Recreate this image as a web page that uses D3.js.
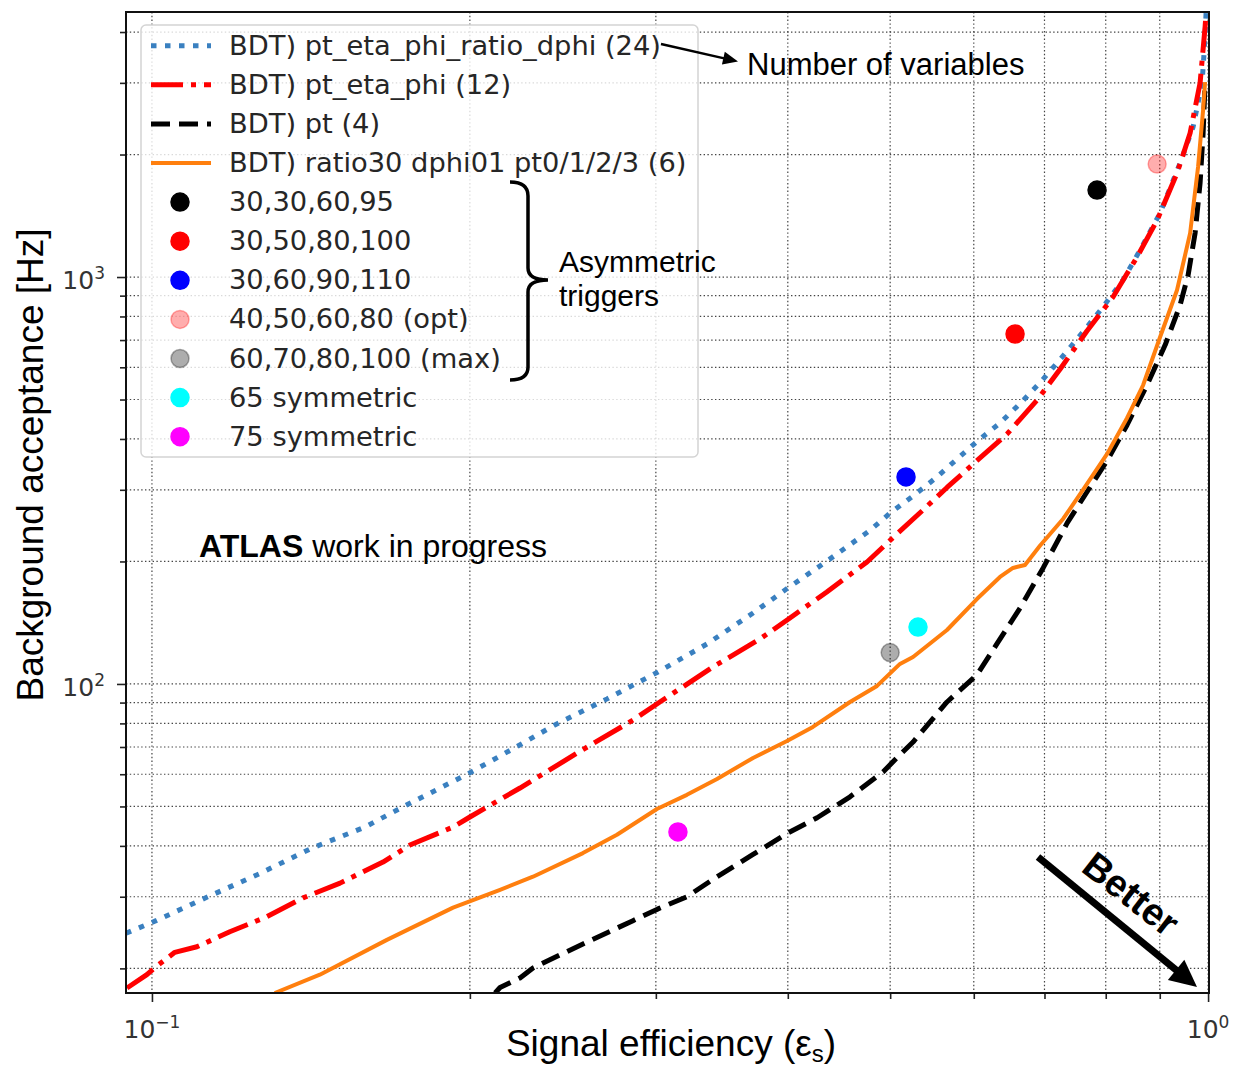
<!DOCTYPE html>
<html>
<head>
<meta charset="utf-8">
<script src="https://cdn.jsdelivr.net/npm/d3@7"></script>
<style>
	body { margin: 0; background: #fff; }
	svg { display: block; }
</style>
</head>
<body>
<svg id="chart" width="1236" height="1068"></svg>
<script>
// ROC-like curves: signal efficiency vs background acceptance [Hz]
var dphi24Eff = [0.0945, 0.1009, 0.113, 0.1268, 0.1417, 0.1591, 0.1729, 0.1991, 0.2221, 0.2407, 0.2697, 0.3014, 0.3354, 0.3708, 0.4002, 0.4318, 0.4785, 0.5, 0.5256, 0.5514, 0.5786, 0.6055, 0.6353, 0.6637, 0.6934, 0.7086, 0.7356, 0.7679, 0.7955, 0.8308, 0.8623, 0.9007, 0.9408, 0.9678, 0.987, 0.9935, 0.9956];
var dphi24Bkg = [24.4, 26.2, 30.0, 34.3, 39.5, 44.5, 49.9, 60.1, 70.4, 79.3, 91.9, 107, 125.4, 149.4, 172.2, 197.2, 238.4, 263.1, 289.7, 319.7, 357.1, 396.3, 437.8, 488.7, 550.3, 587.5, 657.9, 753.7, 845, 983, 1165, 1436, 1906, 2336, 2998, 3889, 4454];

var etaPhi12Eff = [0.0947, 0.0989, 0.1009, 0.1051, 0.1103, 0.1185, 0.1285, 0.139, 0.1507, 0.1655, 0.1755, 0.1928, 0.2, 0.2231, 0.2346, 0.2559, 0.2854, 0.3046, 0.3398, 0.3765, 0.4019, 0.4355, 0.4754, 0.5074, 0.5372, 0.566, 0.6041, 0.6452, 0.6889, 0.7244, 0.7679, 0.8128, 0.8565, 0.8949, 0.9346, 0.9616, 0.9827, 0.9935, 0.9956];
var etaPhi12Bkg = [17.9, 19.3, 20.2, 21.9, 22.6, 24.6, 26.8, 29.8, 32.4, 36.5, 40.2, 44.5, 47.1, 55.5, 60.1, 69.0, 81.5, 91.3, 110.1, 129, 145.3, 168.3, 199.4, 233.7, 267.7, 304, 353.7, 411.5, 498.6, 594.3, 736.8, 893, 1120, 1380, 1800, 2258, 2998, 4115, 4454];

var pt4Eff = [0.2113, 0.2136, 0.2231, 0.2295, 0.2559, 0.2854, 0.3014, 0.321, 0.3428, 0.3708, 0.3993, 0.4264, 0.4581, 0.4923, 0.5108, 0.5256, 0.566, 0.6041, 0.6312, 0.6637, 0.698, 0.7356, 0.7679, 0.8024, 0.8381, 0.8754, 0.9106, 0.9408, 0.9574, 0.9721, 0.9827, 0.9892, 0.9935];
var pt4Bkg = [17.4, 17.95, 18.95, 20.05, 22.97, 26.2, 28.0, 30.0, 33.6, 38.1, 42.9, 46.9, 52.8, 60.8, 67.0, 72.0, 90.3, 105.2, 125.6, 153.7, 192.8, 248.7, 296.3, 353.7, 432.9, 542.8, 680.6, 853.6, 1011, 1282, 1702, 2258, 2998];

var ratio6Eff = [0.1307, 0.1442, 0.1669, 0.1928, 0.2136, 0.2295, 0.2559, 0.2756, 0.3007, 0.321, 0.3428, 0.3708, 0.3993, 0.4225, 0.4581, 0.4859, 0.5108, 0.5256, 0.566, 0.6041, 0.6353, 0.6535, 0.6709, 0.6934, 0.7292, 0.7613, 0.8024, 0.8381, 0.868, 0.9007, 0.9346, 0.9616, 0.9784, 0.9892, 0.9935];
var ratio6Bkg = [17.4, 19.3, 23.5, 28.2, 31.2, 33.6, 38.4, 42.6, 49.3, 53.4, 58.4, 65.8, 72.4, 78.4, 90.3, 98.9, 112, 116.5, 135.7, 161.7, 183.2, 192.8, 196.1, 218.9, 254.7, 299.7, 367.4, 450.4, 542.8, 712.2, 929.3, 1282, 1864, 2572, 3014];

var curveLabels = ['BDT) pt_eta_phi_ratio_dphi (24)', 'BDT) pt_eta_phi (12)', 'BDT) pt (4)', 'BDT) ratio30 dphi01 pt0/1/2/3 (6)'];

// single trigger working points
var triggerNames = ['30,30,60,95', '30,50,80,100', '30,60,90,110', '40,50,60,80 (opt)', '60,70,80,100 (max)', '65 symmetric', '75 symmetric'];
var triggerEff = [0.785, 0.6565, 0.5176, 0.8949, 0.5, 0.5313, 0.3148];
var triggerBkg = [1636, 724.4, 322.6, 1895, 119.4, 138, 43.3];

var xDecadeExp = ['\u22121', '0'];
var yDecadeExp = ['2', '3'];

// styles
var curveStyles = [
	{color: '#3a80c0', width: 5, dash: '5.5 8.5'},
	{color: '#ff0000', width: 5, dash: '32 8 5 8'},
	{color: '#000000', width: 5, dash: '19 9'},
	{color: '#ff7f0e', width: 4, dash: null}
];
var triggerColors = ['#000000', '#ff0000', '#0000ff', '#ff0000', '#000000', '#00ffff', '#ff00ff'];
var triggerAlpha = [1, 1, 1, 0.32, 0.32, 1, 1];

var tickFont = 'DejaVu Sans, sans-serif';
var noteFont = 'Liberation Sans, Arial, sans-serif';

function zipPoints(xs, ys) {
	return xs.map(function (v, i) {
		return [v, ys[i]];
	});
}

function isDecade(v) {
	var l = Math.log10(v);
	return Math.abs(l - Math.round(l)) < 1e-9;
}

function drawArrow(g, x1, y1, x2, y2, lineW, headLen, headW) {
	var dx = x2 - x1, dy = y2 - y1;
	var len = Math.sqrt(dx * dx + dy * dy);
	var ux = dx / len, uy = dy / len;
	var bx = x2 - ux * headLen, by = y2 - uy * headLen;
	g.append('line')
		.attr('x1', x1).attr('y1', y1)
		.attr('x2', bx + ux * 2).attr('y2', by + uy * 2)
		.attr('stroke', '#000')
		.attr('stroke-width', lineW);
	g.append('polygon')
		.attr('points', [[x2, y2], [bx - uy * headW / 2, by + ux * headW / 2], [bx + uy * headW / 2, by - ux * headW / 2]].join(' '))
		.attr('fill', '#000');
}

function drawChart() {
	var svg = d3.select('#chart');
	var plotLeft = 126, plotRight = 1209, plotTop = 12, plotBottom = 993;

	svg.append('rect').attr('width', 1236).attr('height', 1068).attr('fill', '#fff');

	var x = d3.scaleLog().domain([0.0945, 1.002]).range([plotLeft, plotRight]);
	var y = d3.scaleLog().domain([17.4, 4480]).range([plotBottom, plotTop]);

	svg.append('defs').append('clipPath').attr('id', 'plot-clip')
		.append('rect')
		.attr('x', plotLeft).attr('y', plotTop)
		.attr('width', plotRight - plotLeft)
		.attr('height', plotBottom - plotTop);

	// dotted grid on major and minor ticks
	var grid = svg.append('g').attr('id', 'grid')
		.attr('stroke', '#444')
		.attr('stroke-width', 1.2)
		.attr('stroke-dasharray', '1.4 2.4');
	grid.selectAll('line.vgrid').data(x.ticks()).enter().append('line')
		.attr('class', 'vgrid')
		.attr('x1', function (d) { return x(d); })
		.attr('x2', function (d) { return x(d); })
		.attr('y1', plotTop)
		.attr('y2', plotBottom);
	grid.selectAll('line.hgrid').data(y.ticks()).enter().append('line')
		.attr('class', 'hgrid')
		.attr('x1', plotLeft)
		.attr('x2', plotRight)
		.attr('y1', function (d) { return y(d); })
		.attr('y2', function (d) { return y(d); });

	// curves
	var line = d3.line()
		.x(function (d) { return x(d[0]); })
		.y(function (d) { return y(d[1]); });
	var curves = [
		zipPoints(dphi24Eff, dphi24Bkg),
		zipPoints(etaPhi12Eff, etaPhi12Bkg),
		zipPoints(pt4Eff, pt4Bkg),
		zipPoints(ratio6Eff, ratio6Bkg)
	];
	var plot = svg.append('g').attr('clip-path', 'url(#plot-clip)');
	plot.selectAll('path.curve').data(curves).enter().append('path')
		.attr('class', 'curve')
		.attr('d', line)
		.attr('fill', 'none')
		.attr('stroke', function (d, i) { return curveStyles[i].color; })
		.attr('stroke-width', function (d, i) { return curveStyles[i].width; })
		.attr('stroke-dasharray', function (d, i) { return curveStyles[i].dash; })
		.attr('stroke-linejoin', 'round');

	// trigger points
	var points = triggerNames.map(function (n, i) {
		return {name: n, eff: triggerEff[i], bkg: triggerBkg[i], i: i};
	});
	plot.selectAll('circle.trig').data(points).enter().append('circle')
		.attr('class', 'trig')
		.attr('cx', function (d) { return x(d.eff); })
		.attr('cy', function (d) { return y(d.bkg); })
		.attr('r', 9)
		.attr('fill', function (d) { return triggerColors[d.i]; })
		.attr('fill-opacity', function (d) { return triggerAlpha[d.i]; })
		.attr('stroke', function (d) { return triggerColors[d.i]; })
		.attr('stroke-opacity', function (d) { return triggerAlpha[d.i]; })
		.attr('stroke-width', 1.5);

	// axes ticks
	var yMinor = y.ticks().filter(function (d) { return !isDecade(d); });
	var yMajor = y.ticks().filter(isDecade);
	var xMinor = x.ticks().filter(function (d) { return !isDecade(d); });
	var xMajor = x.ticks().filter(isDecade);

	function styleAxis(g) {
		g.select('.domain').remove();
		g.selectAll('.tick line').attr('stroke', '#222').attr('stroke-width', 1.6);
		g.selectAll('.tick text').remove();
	}
	svg.append('g').attr('transform', 'translate(' + plotLeft + ',0)')
		.call(d3.axisLeft(y).tickValues(yMinor).tickSize(6).tickFormat(''))
		.call(styleAxis);
	svg.append('g').attr('transform', 'translate(' + plotLeft + ',0)')
		.call(d3.axisLeft(y).tickValues(yMajor).tickSize(9).tickFormat(''))
		.call(styleAxis);
	svg.append('g').attr('transform', 'translate(0,' + plotBottom + ')')
		.call(d3.axisBottom(x).tickValues(xMinor).tickSize(6).tickFormat(''))
		.call(styleAxis);
	svg.append('g').attr('transform', 'translate(0,' + plotBottom + ')')
		.call(d3.axisBottom(x).tickValues(xMajor).tickSize(9).tickFormat(''))
		.call(styleAxis);

	// tick labels 10^n
	var yLab = svg.selectAll('text.ylab').data(yMajor).enter().append('text')
		.attr('class', 'ylab')
		.attr('x', 105)
		.attr('y', function (d) { return y(d) + 12; })
		.attr('text-anchor', 'end')
		.attr('font-family', tickFont)
		.attr('fill', '#333');
	yLab.append('tspan').attr('font-size', 25).text('10');
	yLab.append('tspan').attr('font-size', 17).attr('dy', -10).text(function (d, i) { return yDecadeExp[i]; });

	var xLab = svg.selectAll('text.xlab').data(xMajor).enter().append('text')
		.attr('class', 'xlab')
		.attr('x', function (d) { return x(d); })
		.attr('y', 1038)
		.attr('text-anchor', 'middle')
		.attr('font-family', tickFont)
		.attr('fill', '#333');
	xLab.append('tspan').attr('font-size', 25).text('10');
	xLab.append('tspan').attr('font-size', 17).attr('dy', -10).text(function (d, i) { return xDecadeExp[i]; });

	// frame
	svg.append('rect')
		.attr('x', plotLeft).attr('y', plotTop)
		.attr('width', plotRight - plotLeft)
		.attr('height', plotBottom - plotTop)
		.attr('fill', 'none')
		.attr('stroke', '#111')
		.attr('stroke-width', 2);

	// axis titles
	var xTitle = svg.append('text')
		.attr('x', 671).attr('y', 1056)
		.attr('text-anchor', 'middle')
		.attr('font-family', noteFont)
		.attr('font-size', 37)
		.attr('fill', '#000');
	xTitle.append('tspan').text('Signal efficiency (\u03b5');
	xTitle.append('tspan').attr('font-size', 24).attr('dy', 6).text('s');
	xTitle.append('tspan').attr('dy', -6).text(')');

	svg.append('text')
		.attr('transform', 'translate(43,465) rotate(-90)')
		.attr('text-anchor', 'middle')
		.attr('font-family', noteFont)
		.attr('font-size', 37)
		.attr('fill', '#000')
		.text('Background acceptance [Hz]');

	// legend
	var legend = svg.append('g').attr('id', 'legend');
	legend.append('rect')
		.attr('x', 141).attr('y', 25)
		.attr('width', 557).attr('height', 432)
		.attr('rx', 5)
		.attr('fill', '#fff')
		.attr('fill-opacity', 0.8)
		.attr('stroke', '#d4d4d4')
		.attr('stroke-width', 1.5);
	var rowY = function (i) { return 45.7 + 39.1 * i; };
	var entries = curveLabels.concat(triggerNames);
	legend.selectAll('line.handle').data(curveLabels).enter().append('line')
		.attr('class', 'handle')
		.attr('x1', 151).attr('x2', 211)
		.attr('y1', function (d, i) { return rowY(i); })
		.attr('y2', function (d, i) { return rowY(i); })
		.attr('stroke', function (d, i) { return curveStyles[i].color; })
		.attr('stroke-width', function (d, i) { return curveStyles[i].width; })
		.attr('stroke-dasharray', function (d, i) { return curveStyles[i].dash; });
	legend.selectAll('circle.handle').data(triggerNames).enter().append('circle')
		.attr('class', 'handle')
		.attr('cx', 180)
		.attr('cy', function (d, i) { return rowY(i + curveLabels.length); })
		.attr('r', 9)
		.attr('fill', function (d, i) { return triggerColors[i]; })
		.attr('fill-opacity', function (d, i) { return triggerAlpha[i]; })
		.attr('stroke', function (d, i) { return triggerColors[i]; })
		.attr('stroke-opacity', function (d, i) { return triggerAlpha[i]; })
		.attr('stroke-width', 1.5);
	legend.selectAll('text').data(entries).enter().append('text')
		.attr('x', 229)
		.attr('y', function (d, i) { return rowY(i) + 9; })
		.attr('font-family', tickFont)
		.attr('font-size', 27.3)
		.attr('fill', '#262626')
		.text(function (d) { return d; });

	// annotations
	var notes = svg.append('g').attr('id', 'notes');
	drawArrow(notes, 661, 44, 738, 61.5, 2.5, 15, 13);
	notes.append('text')
		.attr('x', 747).attr('y', 75)
		.attr('font-family', noteFont).attr('font-size', 31)
		.text('Number of variables');

	notes.append('path')
		.attr('d', 'M510,182 Q528,182 528,196 L528,268 Q528,280 548,280 Q528,280 528,292 L528,367 Q528,380 510,380')
		.attr('fill', 'none')
		.attr('stroke', '#000')
		.attr('stroke-width', 3.5);
	notes.append('text')
		.attr('x', 559).attr('y', 272)
		.attr('font-family', noteFont).attr('font-size', 30)
		.text('Asymmetric');
	notes.append('text')
		.attr('x', 559).attr('y', 306)
		.attr('font-family', noteFont).attr('font-size', 30)
		.text('triggers');

	var atlas = notes.append('text')
		.attr('x', 199).attr('y', 557)
		.attr('font-family', noteFont).attr('font-size', 32);
	atlas.append('tspan').attr('font-weight', 'bold').text('ATLAS');
	atlas.append('tspan').text(' work in progress');

	drawArrow(notes, 1038, 857, 1197, 987, 7, 27, 26);
	notes.append('text')
		.attr('transform', 'translate(1131,894) rotate(38)')
		.attr('x', 0).attr('y', 13)
		.attr('text-anchor', 'middle')
		.attr('font-family', noteFont)
		.attr('font-weight', 'bold')
		.attr('font-size', 38)
		.text('Better');
}

drawChart();
</script>
</body>
</html>
